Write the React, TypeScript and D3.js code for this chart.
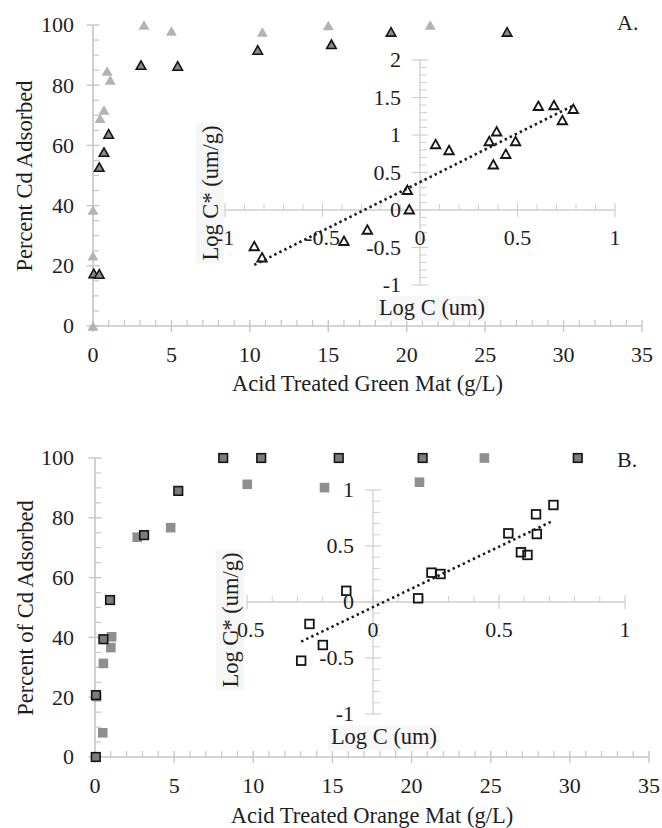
import React from 'react';
import * as d3 from 'd3';

const W = 662;
const H = 828;
const FONT = '"Liberation Serif", "Times New Roman", Times, "DejaVu Serif", "Noto Serif", serif';

// ---------- Panel A: Acid treated green mat ----------
const greenLightX = [0, 0, 0, 0.45, 0.7, 0.9, 1.1, 3.25, 5.0, 10.8, 15.0, 21.5];
const greenLightY = [0, 23.3, 38.5, 69, 71.8, 84.7, 81.7, 100, 98, 97.7, 99.8, 100];
const greenDarkX = [0.05, 0.4, 0.4, 0.7, 1.0, 3.06, 5.4, 10.5, 15.2, 19.0, 26.4];
const greenDarkY = [17.5, 17.3, 52.8, 57.8, 63.8, 86.7, 86.4, 91.7, 93.6, 97.7, 97.7];
const greenLogC = [-0.85, -0.81, -0.39, -0.27, -0.065, -0.055, 0.08, 0.149, 0.355, 0.393, 0.376, 0.44, 0.49, 0.607, 0.687, 0.73, 0.786];
const greenLogCs = [-0.48, -0.63, -0.41, -0.26, 0.27, 0.01, 0.88, 0.8, 0.92, 1.05, 0.61, 0.75, 0.92, 1.39, 1.4, 1.2, 1.35];

// ---------- Panel B: Acid treated orange mat ----------
const orangeLightX = [0.1, 0.49, 0.53, 1.0, 1.05, 2.67, 4.78, 9.62, 14.5, 20.5, 24.6];
const orangeLightY = [20.2, 8.1, 31.3, 36.6, 40.2, 73.5, 76.7, 91.2, 90.1, 91.9, 100];
const orangeDarkX = [0.05, 0.06, 0.53, 0.95, 3.1, 5.26, 8.1, 10.5, 15.4, 20.7, 30.5];
const orangeDarkY = [0, 20.7, 39.4, 52.5, 74.2, 89, 100, 100, 100, 100, 100];
const orangeLogC = [-0.106, -0.252, -0.199, -0.285, 0.179, 0.232, 0.268, 0.537, 0.587, 0.613, 0.647, 0.65, 0.716];
const orangeLogCs = [0.1, -0.196, -0.384, -0.524, 0.033, 0.262, 0.25, 0.613, 0.444, 0.42, 0.783, 0.607, 0.866];

// ---------- Tick labels ----------
const mainXTicks = [0, 5, 10, 15, 20, 25, 30, 35];
const mainYTicks = [0, 20, 40, 60, 80, 100];
const insetAXTicks = [-1, -0.5, 0, 0.5, 1];
const insetAYTicks = [-1, -0.5, 0, 0.5, 1, 1.5, 2];
const insetBXTicks = [-0.5, 0, 0.5, 1];
const insetBYTicks = [-1, -0.5, 0, 0.5, 1];

const AXIS = '#c6c6c6';
const INSET_AXIS = '#cfcfcf';
const TEXT = '#1e1e1e';

function fit(xs: number[], ys: number[]) {
  const mx = d3.mean(xs) as number;
  const my = d3.mean(ys) as number;
  let sxy = 0, sxx = 0;
  xs.forEach((x, i) => { sxy += (x - mx) * (ys[i] - my); sxx += (x - mx) * (x - mx); });
  const b = sxy / sxx;
  return { b, a: my - b * mx };
}

const tri = (w: number, h: number) => `M0,${-h / 2}L${w / 2},${h / 2}L${-w / 2},${h / 2}Z`;

function Marker({ kind, x, y }: { kind: string; x: number; y: number }) {
  if (kind === 'lightTri') return <path d={tri(11, 9.5)} transform={`translate(${x},${y})`} fill="#b3b3b3" />;
  if (kind === 'darkTri') return <path d={tri(9.5, 8.5)} transform={`translate(${x},${y})`} fill="#8a8a8a" stroke="#151515" strokeWidth={1.6} />;
  if (kind === 'openTri') return <path d={tri(9.5, 8.5)} transform={`translate(${x},${y})`} fill="none" stroke="#151515" strokeWidth={1.8} />;
  if (kind === 'lightSq') return <rect x={x - 4.8} y={y - 4.8} width={9.6} height={9.6} fill="#8f8f8f" />;
  if (kind === 'darkSq') return <rect x={x - 4.3} y={y - 4.3} width={8.6} height={8.6} fill="#7c7c7c" stroke="#151515" strokeWidth={1.6} />;
  return <rect x={x - 4.3} y={y - 4.3} width={8.6} height={8.6} fill="none" stroke="#151515" strokeWidth={1.8} />;
}

interface PanelProps {
  xRange: [number, number];
  yRange: [number, number];
  lightX: number[]; lightY: number[];
  darkX: number[]; darkY: number[];
  logC: number[]; logCs: number[];
  shape: 'tri' | 'sq';
  inX: [number, number]; inY: [number, number];
  inXRange: [number, number]; inYRange: [number, number];
  inXTicks: number[]; inYTicks: number[];
  xTitle: string; yTitle: string; letter: string; letterY: number;
  xTitleY: number; yTitleCY: number; yTitleX: number;
  inYTitleX: number; inYTitleCY: number;
  inXTitleX: number; inXTitleY: number;
}

function Panel(p: PanelProps) {
  const xs = d3.scaleLinear().domain([0, 35]).range(p.xRange);
  const ys = d3.scaleLinear().domain([0, 100]).range(p.yRange);
  const ix = d3.scaleLinear().domain(p.inX).range(p.inXRange);
  const iy = d3.scaleLinear().domain(p.inY).range(p.inYRange);
  const x0 = xs(0), y0 = ys(0);
  const ix0 = ix(0), iy0 = iy(0);

  const xMinor = d3.range(0, 36, 1).filter((v) => v % 5 !== 0);
  const yMinor = d3.range(0, 101, 5).filter((v) => v % 20 !== 0);
  const isHalf = (v: number) => Math.abs(v * 2 - Math.round(v * 2)) < 1e-6;
  const ixMinor = d3.range(Math.round(p.inX[0] * 10), Math.round(p.inX[1] * 10) + 1).map((v) => v / 10).filter((v) => !isHalf(v));
  const iyMinor = d3.range(Math.round(p.inY[0] * 10), Math.round(p.inY[1] * 10) + 1).map((v) => v / 10).filter((v) => !isHalf(v));

  const { a, b } = fit(p.logC, p.logCs);
  const [xmin, xmax] = d3.extent(p.logC) as [number, number];
  const line = d3.line<number>().x((v) => ix(v)).y((v) => iy(a + b * v));

  const lightKind = p.shape === 'tri' ? 'lightTri' : 'lightSq';
  const darkKind = p.shape === 'tri' ? 'darkTri' : 'darkSq';
  const openKind = p.shape === 'tri' ? 'openTri' : 'openSq';

  return (
    <g fontFamily={FONT} fill={TEXT} style={{ fontFamily: FONT }}>
      {/* main axes */}
      <line x1={x0} x2={xs(35)} y1={y0} y2={y0} stroke={AXIS} strokeWidth={1.6} />
      <line x1={x0} x2={x0} y1={y0} y2={ys(100)} stroke={AXIS} strokeWidth={1.6} />
      {mainXTicks.map((t) => <line key={'xt' + t} x1={xs(t)} x2={xs(t)} y1={y0 - 6} y2={y0 + 6} stroke={AXIS} strokeWidth={1.4} />)}
      {xMinor.map((t) => <line key={'xm' + t} x1={xs(t)} x2={xs(t)} y1={y0 - 6} y2={y0} stroke={AXIS} strokeWidth={1.2} />)}
      {mainYTicks.map((t) => <line key={'yt' + t} x1={x0 - 6.5} x2={x0 + 6.5} y1={ys(t)} y2={ys(t)} stroke={AXIS} strokeWidth={1.4} />)}
      {yMinor.map((t) => <line key={'ym' + t} x1={x0} x2={x0 + 6} y1={ys(t)} y2={ys(t)} stroke={AXIS} strokeWidth={1.2} />)}
      {mainXTicks.map((t) => <text key={'xl' + t} x={xs(t)} y={y0 + 36} fontSize={22} textAnchor="middle">{t}</text>)}
      {mainYTicks.map((t) => <text key={'yl' + t} x={74} y={ys(t)} dy="0.34em" fontSize={22} textAnchor="end">{t}</text>)}
      <text x={(x0 + xs(35)) / 2} y={p.xTitleY} fontSize={22.5} textAnchor="middle">{p.xTitle}</text>
      <text transform={`translate(${p.yTitleX},${p.yTitleCY}) rotate(-90)`} fontSize={22.5} textAnchor="middle">{p.yTitle}</text>
      <text x={617} y={p.letterY} fontSize={22}>{p.letter}</text>

      {/* main markers */}
      {p.lightX.map((v, i) => <Marker key={'l' + i} kind={lightKind} x={xs(v)} y={ys(p.lightY[i])} />)}
      {p.darkX.map((v, i) => <Marker key={'d' + i} kind={darkKind} x={xs(v)} y={ys(p.darkY[i])} />)}

      {/* inset title backgrounds */}
      <rect x={p.inYTitleX - 22} y={p.inYTitleCY - 70} width={28} height={140} fill="#f6f6f6" />
      <rect x={p.inXTitleX - 56} y={p.inXTitleY - 19} width={112} height={25} fill="#f7f7f7" />

      {/* inset axes */}
      <line x1={ix(p.inX[0])} x2={ix(p.inX[1])} y1={iy0} y2={iy0} stroke={INSET_AXIS} strokeWidth={1.3} />
      <line x1={ix0} x2={ix0} y1={iy(p.inY[0])} y2={iy(p.inY[1])} stroke={INSET_AXIS} strokeWidth={1.3} />
      {p.inXTicks.map((t) => <line key={'ixt' + t} x1={ix(t)} x2={ix(t)} y1={iy0 - 7} y2={iy0 + 7} stroke={INSET_AXIS} strokeWidth={1.2} />)}
      {ixMinor.map((t) => <line key={'ixm' + t} x1={ix(t)} x2={ix(t)} y1={iy0 - 6} y2={iy0} stroke={INSET_AXIS} strokeWidth={1} />)}
      {p.inYTicks.map((t) => <line key={'iyt' + t} x1={ix0 - 8} x2={ix0 + 8} y1={iy(t)} y2={iy(t)} stroke={INSET_AXIS} strokeWidth={1.2} />)}
      {iyMinor.map((t) => <line key={'iym' + t} x1={ix0} x2={ix0 + 7} y1={iy(t)} y2={iy(t)} stroke={INSET_AXIS} strokeWidth={1} />)}
      {p.inXTicks.map((t) => <text key={'ixl' + t} x={ix(t)} y={iy0 + 35} fontSize={22} textAnchor="middle">{String(t)}</text>)}
      {p.inYTicks.map((t) => <text key={'iyl' + t} x={ix0 - 19} y={iy(t)} dy="0.34em" fontSize={22} textAnchor="end">{String(t)}</text>)}
      <text x={p.inXTitleX} y={p.inXTitleY} fontSize={22.5} textAnchor="middle">Log C (um)</text>
      <text transform={`translate(${p.inYTitleX},${p.inYTitleCY}) rotate(-90)`} fontSize={22.5} textAnchor="middle">Log C* (um/g)</text>

      {/* inset markers */}
      {p.logC.map((v, i) => <Marker key={'o' + i} kind={openKind} x={ix(v)} y={iy(p.logCs[i])} />)}
      <path d={line([xmin, xmax]) || ''} fill="none" stroke="#1a1a1a" strokeWidth={2.6} strokeDasharray="2.4 3.2" />
    </g>
  );
}

export default function App() {
  return (
    <svg width={W} height={H} style={{ position: 'absolute', left: 0, top: 0, background: '#fff' }}>
      <rect width={W} height={H} fill="#fff" />
      <Panel
        xRange={[93, 642]} yRange={[326, 25]}
        lightX={greenLightX} lightY={greenLightY} darkX={greenDarkX} darkY={greenDarkY}
        logC={greenLogC} logCs={greenLogCs} shape="tri"
        inX={[-1, 1]} inY={[-1, 2]} inXRange={[225, 615]} inYRange={[285, 60]}
        inXTicks={insetAXTicks} inYTicks={insetAYTicks}
        xTitle="Acid Treated Green Mat (g/L)" yTitle="Percent Cd Adsorbed" letter="A." letterY={30}
        xTitleY={391} yTitleCY={176} yTitleX={32}
        inYTitleX={218} inYTitleCY={193} inXTitleX={432} inXTitleY={315}
      />
      <Panel
        xRange={[95, 649]} yRange={[757, 458]}
        lightX={orangeLightX} lightY={orangeLightY} darkX={orangeDarkX} darkY={orangeDarkY}
        logC={orangeLogC} logCs={orangeLogCs} shape="sq"
        inX={[-0.5, 1]} inY={[-1, 1]} inXRange={[247, 625]} inYRange={[714, 490]}
        inXTicks={insetBXTicks} inYTicks={insetBYTicks}
        xTitle="Acid Treated Orange Mat (g/L)" yTitle="Percent of Cd Adsorbed" letter="B." letterY={467}
        xTitleY={823} yTitleCY={608} yTitleX={33}
        inYTitleX={238} inYTitleCY={620} inXTitleX={384} inXTitleY={744}
      />
    </svg>
  );
}
